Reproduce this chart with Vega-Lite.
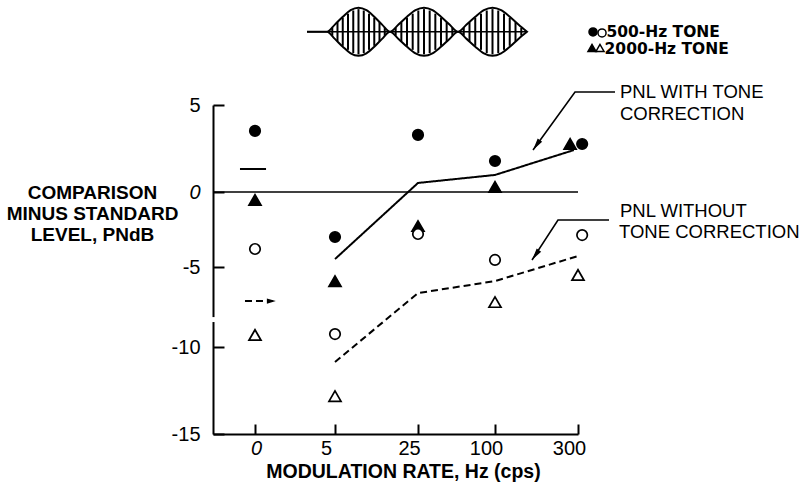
{
  "$schema": "https://vega.github.io/schema/vega-lite/v6.json",
  "width": 365,
  "height": 329,
  "autosize": {"type": "none"},
  "padding": {"left": 213, "top": 105, "right": 225, "bottom": 51},
  "background": "white",
  "config": {"view": {"stroke": null}, "font": "Liberation Sans"},
  "datasets": {
    "zero": [{"rate": -2.6, "rate2": 300, "level": 0}],
    "points": [
      {"rate": 0, "level": 3.51, "tone": "500", "correction": "with"},
      {"rate": 5, "level": -3.0, "tone": "500", "correction": "with"},
      {"rate": 25, "level": 3.28, "tone": "500", "correction": "with"},
      {"rate": 100, "level": 1.78, "tone": "500", "correction": "with"},
      {"rate": 310, "level": 2.76, "tone": "500", "correction": "with"},
      {"rate": 0, "level": -0.53, "tone": "2000", "correction": "with"},
      {"rate": 5, "level": -5.88, "tone": "2000", "correction": "with"},
      {"rate": 25, "level": -2.27, "tone": "2000", "correction": "with"},
      {"rate": 100, "level": 0.29, "tone": "2000", "correction": "with"},
      {"rate": 281, "level": 2.76, "tone": "2000", "correction": "with"},
      {"rate": 0, "level": -3.8, "tone": "500", "correction": "without"},
      {"rate": 5, "level": -9.19, "tone": "500", "correction": "without"},
      {"rate": 25, "level": -2.8, "tone": "500", "correction": "without"},
      {"rate": 100, "level": -4.53, "tone": "500", "correction": "without"},
      {"rate": 310, "level": -2.87, "tone": "500", "correction": "without"},
      {"rate": 0, "level": -9.25, "tone": "2000", "correction": "without"},
      {"rate": 5, "level": -12.82, "tone": "2000", "correction": "without"},
      {"rate": 100, "level": -7.19, "tone": "2000", "correction": "without"},
      {"rate": 300, "level": -5.5, "tone": "2000", "correction": "without"}
    ],
    "lines": [
      {"rate": 5, "level": -4.47, "series": "with"},
      {"rate": 25, "level": 0.52, "series": "with"},
      {"rate": 100, "level": 0.98, "series": "with"},
      {"rate": 290, "level": 2.41, "series": "with"},
      {"rate": 5, "level": -10.86, "series": "without"},
      {"rate": 25, "level": -6.63, "series": "without"},
      {"rate": 100, "level": -5.88, "series": "without"},
      {"rate": 300, "level": -4.27, "series": "without"}
    ],
    "keys": [
      {"rate": -0.93, "rate2": 0.69, "level": 1.32, "series": "with"},
      {"rate": -0.62, "rate2": 1.1, "level": -7.13, "series": "without"}
    ],
    "keyArrow": [{"rate": 1.3, "level": -7.13}],
    "axisBreak": [{"rate": -2.6, "level": -8.13, "level2": -8.44}],
    "leaders": [
      {"id": "a", "rate": 389.2, "level": 5.75},
      {"id": "a", "rate": 292.8, "level": 5.75},
      {"id": "a", "rate": 191.6, "level": 2.41},
      {"id": "b", "rate": 374.7, "level": -1.87},
      {"id": "b", "rate": 251.8, "level": -1.87},
      {"id": "b", "rate": 189.2, "level": -4.53}
    ],
    "arrowTips": [
      {"rate": 191.6, "level": 2.41},
      {"rate": 189.2, "level": -4.53}
    ],
    "notes": [
      {"rate": 401.2, "level": 5.40, "label": "PNL WITH TONE"},
      {"rate": 401.2, "level": 4.14, "label": "CORRECTION"},
      {"rate": 401.2, "level": -1.67, "label": "PNL WITHOUT"},
      {"rate": 398.8, "level": -3.07, "label": "TONE CORRECTION"}
    ],
    "legendSymbols": [
      {"rate": 336.2, "level": 9.2, "tone": "500", "correction": "with"},
      {"rate": 357.9, "level": 9.14, "tone": "500", "correction": "without"},
      {"rate": 333.8, "level": 8.28, "tone": "2000", "correction": "with"},
      {"rate": 353.0, "level": 8.28, "tone": "2000", "correction": "without"}
    ],
    "legendText": [
      {"rate": 368.5, "level": 8.88, "label": "500-Hz TONE"},
      {"rate": 364.0, "level": 7.93, "label": "2000-Hz TONE"}
    ],
    "waveBase": [{"rate": 3.25, "rate2": 177.1, "level": 9.21}],
    "waveEnv": [
      {"rate": 3.25, "level": 9.21, "level2": 9.21},
      {"rate": 4.5, "level": 9.21, "level2": 9.21},
      {"rate": 4.99, "level": 9.62, "level2": 8.80},
      {"rate": 6.88, "level": 10.07, "level2": 8.35},
      {"rate": 8.76, "level": 10.45, "level2": 7.97},
      {"rate": 10.66, "level": 10.59, "level2": 7.83},
      {"rate": 12.57, "level": 10.45, "level2": 7.97},
      {"rate": 14.47, "level": 10.07, "level2": 8.35},
      {"rate": 16.35, "level": 9.62, "level2": 8.80},
      {"rate": 18.26, "level": 9.21, "level2": 9.21},
      {"rate": 20.30, "level": 9.62, "level2": 8.80},
      {"rate": 22.35, "level": 10.07, "level2": 8.35},
      {"rate": 24.40, "level": 10.45, "level2": 7.97},
      {"rate": 30.84, "level": 10.59, "level2": 7.83},
      {"rate": 39.12, "level": 10.45, "level2": 7.97},
      {"rate": 47.40, "level": 10.07, "level2": 8.35},
      {"rate": 55.68, "level": 9.62, "level2": 8.80},
      {"rate": 63.96, "level": 9.21, "level2": 9.21},
      {"rate": 72.34, "level": 9.62, "level2": 8.80},
      {"rate": 80.81, "level": 10.07, "level2": 8.35},
      {"rate": 89.19, "level": 10.45, "level2": 7.97},
      {"rate": 97.57, "level": 10.59, "level2": 7.83},
      {"rate": 114.7, "level": 10.45, "level2": 7.97},
      {"rate": 135.7, "level": 10.07, "level2": 8.35},
      {"rate": 156.4, "level": 9.62, "level2": 8.80},
      {"rate": 177.1, "level": 9.21, "level2": 9.21}
    ],
    "waveRules": [
      {"rate": 4.83, "level": 9.43, "level2": 8.99},
      {"rate": 5.60, "level": 9.76, "level2": 8.66},
      {"rate": 6.87, "level": 10.02, "level2": 8.40},
      {"rate": 8.13, "level": 10.25, "level2": 8.17},
      {"rate": 9.40, "level": 10.43, "level2": 7.99},
      {"rate": 10.66, "level": 10.51, "level2": 7.91},
      {"rate": 11.93, "level": 10.43, "level2": 7.99},
      {"rate": 13.19, "level": 10.25, "level2": 8.17},
      {"rate": 14.46, "level": 10.02, "level2": 8.40},
      {"rate": 15.72, "level": 9.76, "level2": 8.66},
      {"rate": 16.99, "level": 9.43, "level2": 8.99},
      {"rate": 19.62, "level": 9.43, "level2": 8.99},
      {"rate": 20.99, "level": 9.76, "level2": 8.66},
      {"rate": 22.35, "level": 10.02, "level2": 8.40},
      {"rate": 23.72, "level": 10.25, "level2": 8.17},
      {"rate": 25.32, "level": 10.43, "level2": 7.99},
      {"rate": 30.84, "level": 10.51, "level2": 7.91},
      {"rate": 36.37, "level": 10.43, "level2": 7.99},
      {"rate": 41.88, "level": 10.25, "level2": 8.17},
      {"rate": 47.40, "level": 10.02, "level2": 8.40},
      {"rate": 52.92, "level": 9.76, "level2": 8.66},
      {"rate": 58.44, "level": 9.43, "level2": 8.99},
      {"rate": 69.56, "level": 9.43, "level2": 8.99},
      {"rate": 75.16, "level": 9.76, "level2": 8.66},
      {"rate": 80.76, "level": 10.02, "level2": 8.40},
      {"rate": 86.36, "level": 10.25, "level2": 8.17},
      {"rate": 91.96, "level": 10.43, "level2": 7.99},
      {"rate": 97.56, "level": 10.51, "level2": 7.91},
      {"rate": 107.8, "level": 10.43, "level2": 7.99},
      {"rate": 121.7, "level": 10.25, "level2": 8.17},
      {"rate": 135.5, "level": 10.02, "level2": 8.40},
      {"rate": 149.4, "level": 9.76, "level2": 8.66},
      {"rate": 163.3, "level": 9.43, "level2": 8.99}
    ]
  },
  "encoding": {
    "x": {
      "field": "rate",
      "type": "quantitative",
      "scale": {"type": "linear", "domain": [-2.6, 0, 5, 25, 100, 300], "range": [0, 42, 122, 205, 282, 365], "nice": false, "zero": false},
      "axis": {
        "values": [0, 5, 25, 100, 300],
        "grid": false,
        "title": "MODULATION RATE, Hz (cps)",
        "titleFont": "Liberation Sans",
        "titleFontWeight": "bold",
        "titleFontSize": 19.5,
        "titleColor": "black",
        "titleX": 190,
        "titleY": 43,
        "titleAlign": "center",
        "titleBaseline": "alphabetic",
        "domainColor": "black",
        "domainWidth": 2,
        "tickColor": "black",
        "tickWidth": 2,
        "tickSize": -10,
        "labelPadding": 14,
        "labelFont": "Liberation Sans",
        "labelFontSize": 20,
        "labelColor": "black",
        "labelBaseline": "top",
        "labelAlign": "center",
        "labelFlush": false,
        "labelOverlap": false,
        "labelFontStyle": {"condition": {"test": "datum.value === 0", "value": "italic"}, "value": "normal"},
        "labelOffset": {"condition": {"test": "datum.value === 0", "value": 1}, "value": -9}
      }
    },
    "y": {
      "field": "level",
      "type": "quantitative",
      "scale": {"type": "linear", "domain": [-15, -10, -5, 0, 5], "range": [329, 242, 162, 87, 0], "nice": false, "zero": false},
      "axis": {
        "values": [-15, -10, -5, 0, 5],
        "grid": false,
        "title": ["COMPARISON", "MINUS STANDARD", "LEVEL, PNdB"],
        "titleAngle": 0,
        "titleX": -121,
        "titleY": 93,
        "titleAlign": "center",
        "titleBaseline": "alphabetic",
        "titleLineHeight": 21,
        "titleFont": "Liberation Sans",
        "titleFontWeight": "bold",
        "titleFontSize": 19,
        "titleColor": "black",
        "domainColor": "black",
        "domainWidth": 2,
        "tickColor": "black",
        "tickWidth": 2,
        "tickSize": -11,
        "labelPadding": 24,
        "labelExpr": "replace(datum.label, '\u2212', '-')",
        "labelFont": "Liberation Sans",
        "labelFontSize": 20,
        "labelColor": "black",
        "labelBaseline": "middle",
        "labelAlign": "right",
        "labelFlush": false,
        "labelOverlap": false,
        "labelFontStyle": {"condition": {"test": "datum.value === 0", "value": "italic"}, "value": "normal"}
      }
    }
  },
  "layer": [
    {
      "data": {"name": "zero"},
      "mark": {"type": "rule", "color": "black", "strokeWidth": 1.6},
      "encoding": {"x2": {"field": "rate2"}}
    },
    {
      "data": {"name": "axisBreak"},
      "mark": {"type": "rule", "color": "white", "strokeWidth": 6},
      "encoding": {"y2": {"field": "level2"}}
    },
    {
      "data": {"name": "lines"},
      "mark": {"type": "line", "color": "black", "strokeWidth": 2},
      "encoding": {
        "detail": {"field": "series", "type": "nominal"},
        "strokeDash": {"field": "series", "type": "nominal", "scale": {"domain": ["with", "without"], "range": [[1, 0], [7, 4]]}, "legend": null}
      }
    },
    {
      "data": {"name": "keys"},
      "mark": {"type": "rule", "color": "black", "strokeWidth": 2},
      "encoding": {
        "x2": {"field": "rate2"},
        "strokeDash": {"field": "series", "type": "nominal", "scale": {"domain": ["with", "without"], "range": [[1, 0], [5, 3]]}, "legend": null}
      }
    },
    {
      "data": {"name": "keyArrow"},
      "mark": {"type": "point", "shape": "M0,0L0.6,2L-0.6,2Z", "filled": true, "color": "black", "size": 80, "angle": 90, "opacity": 1}
    },
    {
      "data": {"name": "leaders"},
      "mark": {"type": "line", "color": "black", "strokeWidth": 1.6},
      "encoding": {"detail": {"field": "id", "type": "nominal"}}
    },
    {
      "data": {"name": "arrowTips"},
      "mark": {"type": "point", "shape": "M0,0L0.5,2.2L-0.5,2.2Z", "filled": true, "color": "black", "size": 120, "angle": 215, "opacity": 1}
    },
    {
      "data": {"name": "points"},
      "mark": {"type": "point", "stroke": "black", "strokeWidth": 1.7, "opacity": 1},
      "encoding": {
        "shape": {"field": "tone", "type": "nominal", "scale": {"domain": ["500", "2000"], "range": ["circle", "triangle-up"]}, "legend": null},
        "fill": {"field": "correction", "type": "nominal", "scale": {"domain": ["with", "without"], "range": ["black", "white"]}, "legend": null},
        "size": {"field": "tone", "type": "nominal", "scale": {"domain": ["500", "2000"], "range": [110, 145]}, "legend": null}
      }
    },
    {
      "data": {"name": "legendSymbols"},
      "mark": {"type": "point", "stroke": "black", "strokeWidth": 1.5, "opacity": 1, "size": 65},
      "encoding": {
        "shape": {"field": "tone", "type": "nominal", "scale": {"domain": ["500", "2000"], "range": ["circle", "triangle-up"]}, "legend": null},
        "fill": {"field": "correction", "type": "nominal", "scale": {"domain": ["with", "without"], "range": ["black", "white"]}, "legend": null}
      }
    },
    {
      "data": {"name": "legendText"},
      "mark": {"type": "text", "align": "left", "baseline": "alphabetic", "font": "DejaVu Sans", "fontWeight": "bold", "fontSize": 15.5, "color": "black"},
      "encoding": {"text": {"field": "label", "type": "nominal"}}
    },
    {
      "data": {"name": "notes"},
      "mark": {"type": "text", "align": "left", "baseline": "alphabetic", "font": "Liberation Sans", "fontSize": 18.5, "color": "black"},
      "encoding": {"text": {"field": "label", "type": "nominal"}}
    },
    {
      "data": {"name": "waveBase"},
      "mark": {"type": "rule", "color": "black", "strokeWidth": 1.5},
      "encoding": {"x2": {"field": "rate2"}}
    },
    {
      "data": {"name": "waveEnv"},
      "mark": {"type": "area", "fill": "white", "fillOpacity": 0, "stroke": "black", "strokeWidth": 2, "interpolate": "monotone"},
      "encoding": {"y2": {"field": "level2"}}
    },
    {
      "data": {"name": "waveRules"},
      "mark": {"type": "rule", "color": "black", "strokeWidth": 2},
      "encoding": {"y2": {"field": "level2"}}
    }
  ]
}
